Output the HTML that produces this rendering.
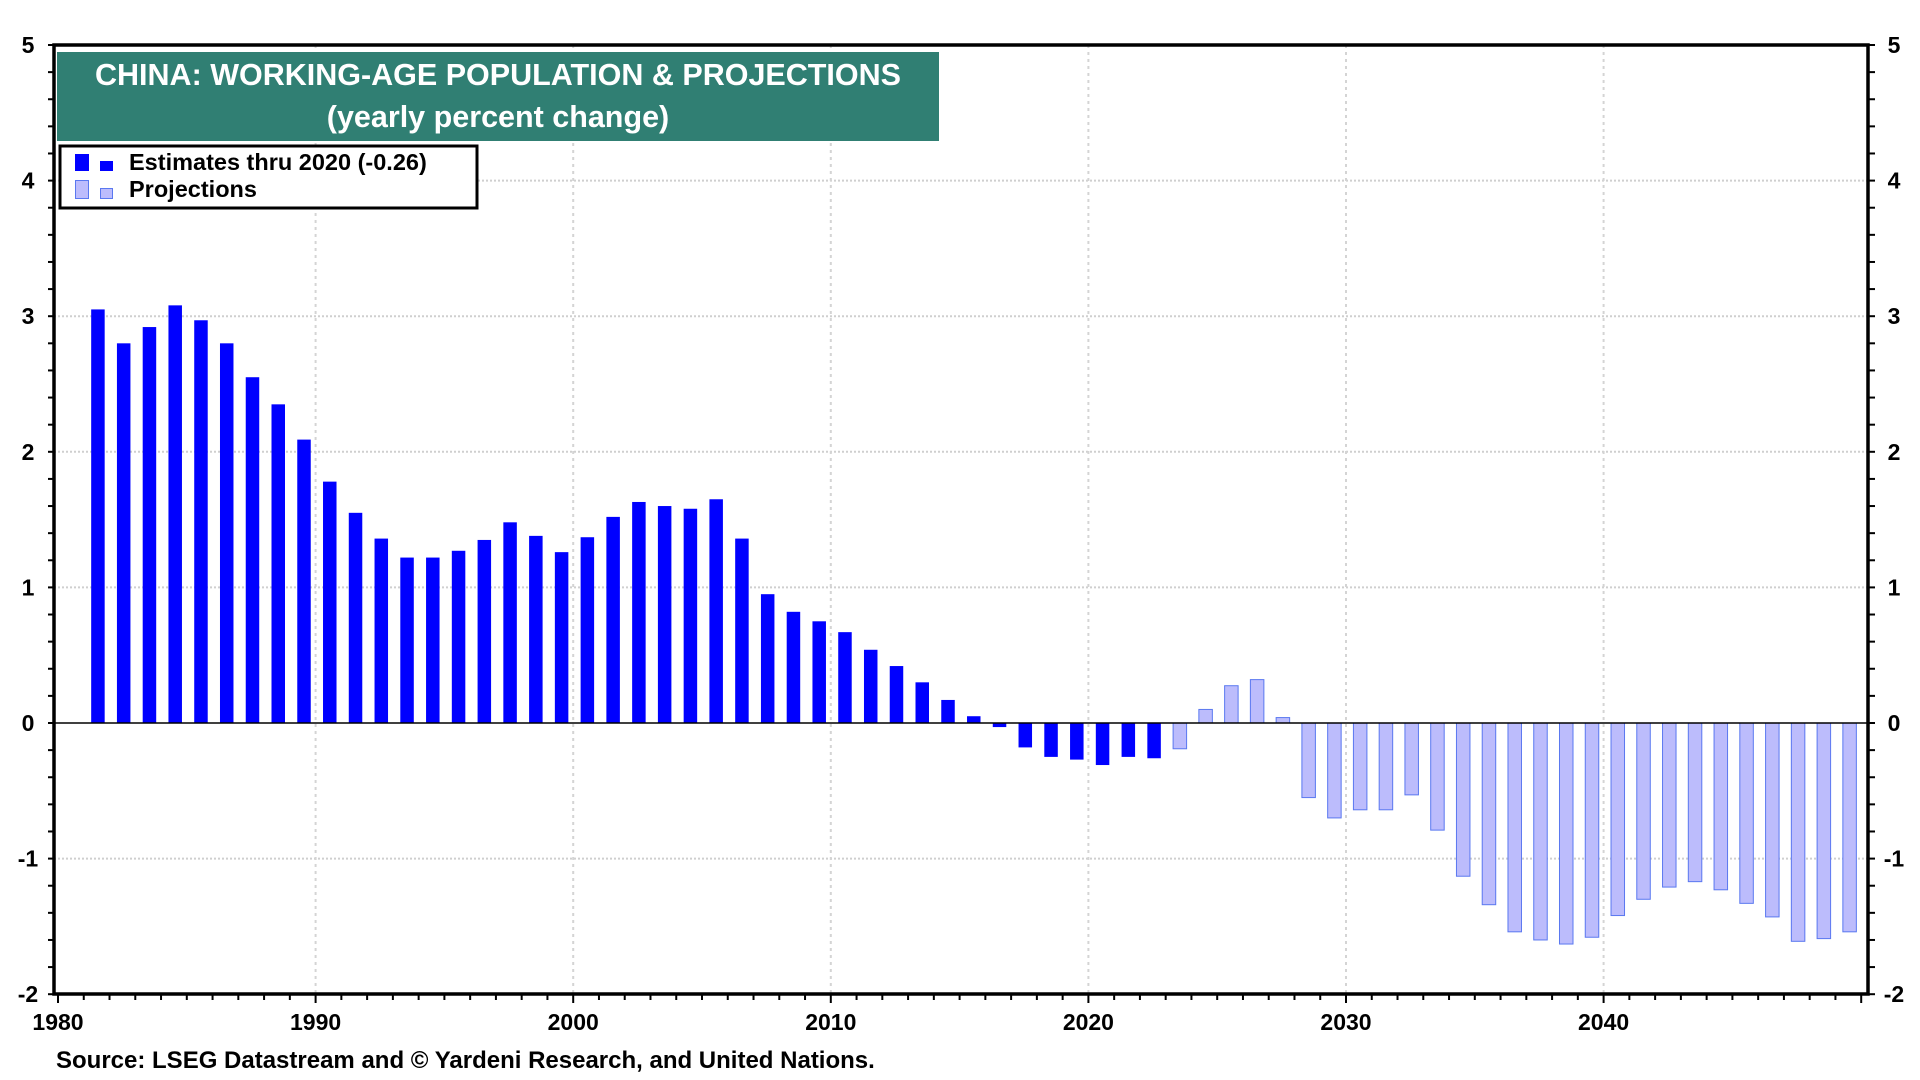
<!DOCTYPE html>
<html><head><meta charset="utf-8">
<style>
html,body{margin:0;padding:0;background:#fff;}
svg{display:block;font-family:"Liberation Sans",sans-serif;font-weight:bold;}
</style></head>
<body>
<svg id="chart" width="1920" height="1080" viewBox="0 0 1920 1080" xmlns="http://www.w3.org/2000/svg">
  <g id="grid"></g>
  <g id="bars"></g>
  <g id="axes"></g>
  <rect x="57" y="52" width="882" height="89" fill="#307f73"/>
  <text x="498" y="85" font-size="30.5" fill="#fff" text-anchor="middle">CHINA: WORKING-AGE POPULATION &amp; PROJECTIONS</text>
  <text x="498" y="127" font-size="30.5" fill="#fff" text-anchor="middle">(yearly percent change)</text>
  <g>
    <rect x="60" y="146" width="417" height="62" fill="#fff" stroke="#000" stroke-width="3"/>
    <rect x="75" y="154" width="14" height="17" fill="#0000ff"/>
    <rect x="100" y="161" width="13" height="10" fill="#0000ff"/>
    <text x="129" y="170" font-size="23.5">Estimates thru 2020 (-0.26)</text>
    <rect x="75.5" y="180.5" width="13" height="18" fill="#bcbcfc" stroke="#5a78f0"/>
    <rect x="100.5" y="188.5" width="12" height="10" fill="#bcbcfc" stroke="#5a78f0"/>
    <text x="129" y="197" font-size="23.5">Projections</text>
  </g>
  <text x="56" y="1068" font-size="24">Source: LSEG Datastream and © Yardeni Research, and United Nations.</text>
</svg>
<script>
const estYears = [1981,1982,1983,1984,1985,1986,1987,1988,1989,1990,1991,1992,1993,1994,1995,1996,1997,1998,1999,2000,2001,2002,2003,2004,2005,2006,2007,2008,2009,2010,2011,2012,2013,2014,2015,2016,2017,2018,2019,2020,2021,2022];
const estValues = [3.05,2.80,2.92,3.08,2.97,2.80,2.55,2.35,2.09,1.78,1.55,1.36,1.22,1.22,1.27,1.35,1.48,1.38,1.26,1.37,1.52,1.63,1.60,1.58,1.65,1.36,0.95,0.82,0.75,0.67,0.54,0.42,0.30,0.17,0.05,-0.03,-0.18,-0.25,-0.27,-0.31,-0.25,-0.26];
const projYears = [2023,2024,2025,2026,2027,2028,2029,2030,2031,2032,2033,2034,2035,2036,2037,2038,2039,2040,2041,2042,2043,2044,2045,2046,2047,2048,2049];
const projValues = [-0.19,0.10,0.275,0.32,0.04,-0.55,-0.70,-0.64,-0.64,-0.53,-0.79,-1.13,-1.34,-1.54,-1.60,-1.63,-1.58,-1.42,-1.30,-1.21,-1.17,-1.23,-1.33,-1.43,-1.61,-1.59,-1.54];
const yTicks = [5,4,3,2,1,0,-1,-2];
const xTicks = [1980,1990,2000,2010,2020,2030,2040];

const NS = "http://www.w3.org/2000/svg";
const L = 54, R = 1868, T = 45, B = 994;
const x = yr => 58 + (yr - 1980) * 25.76;
const y = v => 723 - v * 135.6;
function mk(tag, attrs, parent){ const e = document.createElementNS(NS, tag); for (const k in attrs) e.setAttribute(k, attrs[k]); parent.appendChild(e); return e; }
const grid = document.getElementById('grid'), bars = document.getElementById('bars'), axes = document.getElementById('axes');

yTicks.forEach(v => {
  if (v !== 5 && v !== -2 && v !== 0) {
    const g = mk('line', {x1:L, x2:R, y1:y(v), y2:y(v), stroke:'#cfcfcf', 'stroke-width':2, 'stroke-dasharray':'2,2'}, grid);
    
    
  }
  const t1 = mk('text', {x:28, y:y(v)+8, 'font-size':23, 'text-anchor':'middle'}, axes);
  t1.textContent = v;
  
  
  const t2 = mk('text', {x:1894, y:y(v)+8, 'font-size':23, 'text-anchor':'middle'}, axes);
  t2.textContent = v;
  
  
});
xTicks.forEach(yr => {
  if (yr !== 1980) {
    const g = mk('line', {x1:x(yr), x2:x(yr), y1:T, y2:B, stroke:'#d4d4d4', 'stroke-width':2, 'stroke-dasharray':'3,4'}, grid);
    
    
  }
  const t = mk('text', {x:x(yr), y:1030, 'font-size':23, 'text-anchor':'middle'}, axes);
  t.textContent = yr;
  
  
});
const bw = 13.5;
estYears.forEach((yr, i) => {
  const v = estValues[i], cx = x(yr + 0.55);
  const r = mk('rect', {x:cx - bw/2, y:Math.min(y(v), y(0)), width:bw, height:Math.max(1, Math.abs(y(v) - y(0))), fill:'#0000ff'}, bars);
  
  
});
projYears.forEach((yr, i) => {
  const v = projValues[i], cx = x(yr + 0.55);
  const r = mk('rect', {x:cx - bw/2, y:Math.min(y(v), y(0)), width:bw, height:Math.max(1, Math.abs(y(v) - y(0))), fill:'#bcbcfc', stroke:'#5a78f0', 'stroke-width':1}, bars);
  
  
});
mk('line', {x1:L, x2:R, y1:y(0), y2:y(0), stroke:'#000', 'stroke-width':1.5}, axes);
for (let v = -2; v <= 5.001; v += 0.2) {
  mk('line', {x1:L-6, x2:L, y1:y(v), y2:y(v), stroke:'#000', 'stroke-width':2}, axes);
  mk('line', {x1:R, x2:R+7, y1:y(v), y2:y(v), stroke:'#000', 'stroke-width':2}, axes);
}
for (let yr = 1980; yr <= 2050; yr++) {
  mk('line', {x1:x(yr), x2:x(yr), y1:B, y2:B + (yr % 10 === 0 ? 9 : 6), stroke:'#000', 'stroke-width':2}, axes);
}
const frame = mk('rect', {x:L, y:T, width:R-L, height:B-T, fill:'none', stroke:'#000', 'stroke-width':3.5}, axes);


</script>
</body></html>
